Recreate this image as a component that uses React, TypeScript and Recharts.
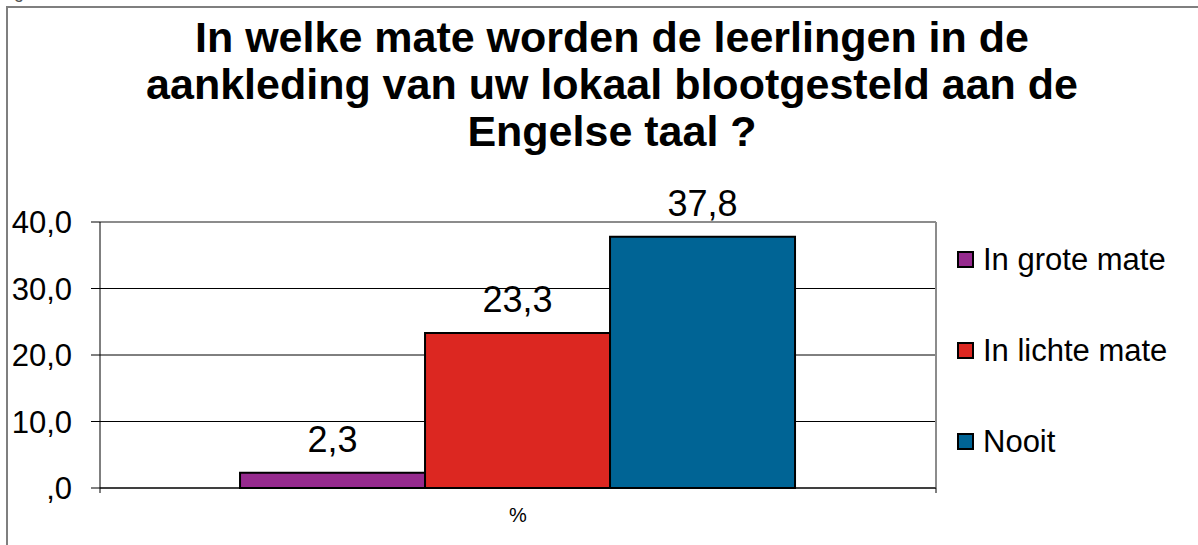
import { BarChart, Bar, XAxis, YAxis, CartesianGrid, LabelList, ReferenceLine } from "recharts";

const categories = ["%"];
const seriesNames = ["In grote mate", "In lichte mate", "Nooit"];
const seriesValues = [2.3, 23.3, 37.8];
const yTicks = [0, 10, 20, 30, 40];

const COLORS = ["#962a8e", "#dc2721", "#006495"];
const FRAME = "#7f7f7f";
const FONT = '"Liberation Sans", Arial, sans-serif';

const data = categories.map((cat) => {
  const row: Record<string, string | number> = { cat };
  seriesValues.forEach((v, i) => {
    row["s" + i] = v;
  });
  return row;
});

const fmt = (v: number) => (v === 0 ? ",0" : v.toFixed(1).replace(".", ","));

function EdgeTick(props: any) {
  const { x, y, payload } = props;
  const off = payload?.offset ?? 0;
  return (
    <g>
      <line x1={x - off} y1={y} x2={x - off} y2={y + 5} stroke="#000" />
      <line x1={x + off} y1={y} x2={x + off} y2={y + 5} stroke="#000" />
      <text x={x} y={y + 34} textAnchor="middle" fontSize={20} fontFamily={FONT} fill="#000">
        {payload.value}
      </text>
    </g>
  );
}

export default function App() {
  return (
    <div style={{ width: 1182, height: 529 }}>
      <div
        style={{
          position: "fixed",
          left: 0,
          top: 0,
          width: 1198,
          height: 545,
          overflow: "hidden",
          background: "#fff",
          fontFamily: FONT,
        }}
      >
        <div style={{ position: "absolute", left: 14, top: -17, fontSize: 18, lineHeight: "18px", color: "#555" }}>g</div>
        <div
          style={{
            position: "absolute",
            left: 0,
            top: 14,
            width: 1224,
            textAlign: "center",
            fontSize: 43,
            lineHeight: "47px",
            fontWeight: "bold",
            color: "#000",
          }}
        >
          In welke mate worden de leerlingen in de
          <br />
          aankleding van uw lokaal blootgesteld aan de
          <br />
          Engelse taal ?
        </div>
        <div style={{ position: "absolute", left: 0, top: 0 }}>
          <BarChart
            width={1198}
            height={545}
            data={data}
            margin={{ top: 222, right: 262, bottom: 0, left: 0 }}
            barCategoryGap="16.75%"
            barGap={0}
          >
            <CartesianGrid vertical={false} stroke="#000" />
            <XAxis
              dataKey="cat"
              height={57}
              axisLine={{ stroke: "#000" }}
              tickLine={false}
              tickSize={0}
              tickMargin={0}
              tick={<EdgeTick />}
            />
            <YAxis
              width={100}
              domain={[0, 40]}
              ticks={yTicks}
              tickFormatter={fmt}
              axisLine={{ stroke: "#000" }}
              tickLine={{ stroke: "#000" }}
              tickSize={9}
              tickMargin={19}
              tick={{ fontSize: 31, fill: "#000", fontFamily: FONT }}
            />
            <ReferenceLine y={40} stroke="#8c8c8c" strokeWidth={2} />
            <ReferenceLine x="%" position="end" stroke="#8c8c8c" strokeWidth={2} />
            {seriesNames.map((name, i) => (
              <Bar
                key={name}
                dataKey={"s" + i}
                name={name}
                fill={COLORS[i]}
                stroke="#000"
                strokeWidth={2}
                isAnimationActive={false}
              >
                <LabelList
                  dataKey={"s" + i}
                  position="top"
                  offset={21}
                  formatter={(v: any) => fmt(Number(v))}
                  fontSize={36}
                  fill="#000"
                  fontFamily={FONT}
                />
              </Bar>
            ))}
          </BarChart>
        </div>
        <div style={{ position: "absolute", left: 957, top: 214 }}>
          {seriesNames.map((name, i) => (
            <div key={name} style={{ height: 91, display: "flex", alignItems: "center" }}>
              <span
                style={{
                  display: "inline-block",
                  width: 13,
                  height: 13,
                  background: COLORS[i],
                  border: "2px solid #000",
                  marginRight: 9,
                }}
              />
              <span style={{ fontSize: 31, color: "#000", whiteSpace: "nowrap" }}>{name}</span>
            </div>
          ))}
        </div>
        {/* frame of the original chart box, cut off at right and bottom */}
        <svg
          width={1198}
          height={545}
          style={{ position: "absolute", left: 0, top: 0, zIndex: 10, pointerEvents: "none" }}
        >
          <path d="M7 545 V7 H1198" fill="none" stroke={FRAME} strokeWidth={2} />
        </svg>
      </div>
    </div>
  );
}
